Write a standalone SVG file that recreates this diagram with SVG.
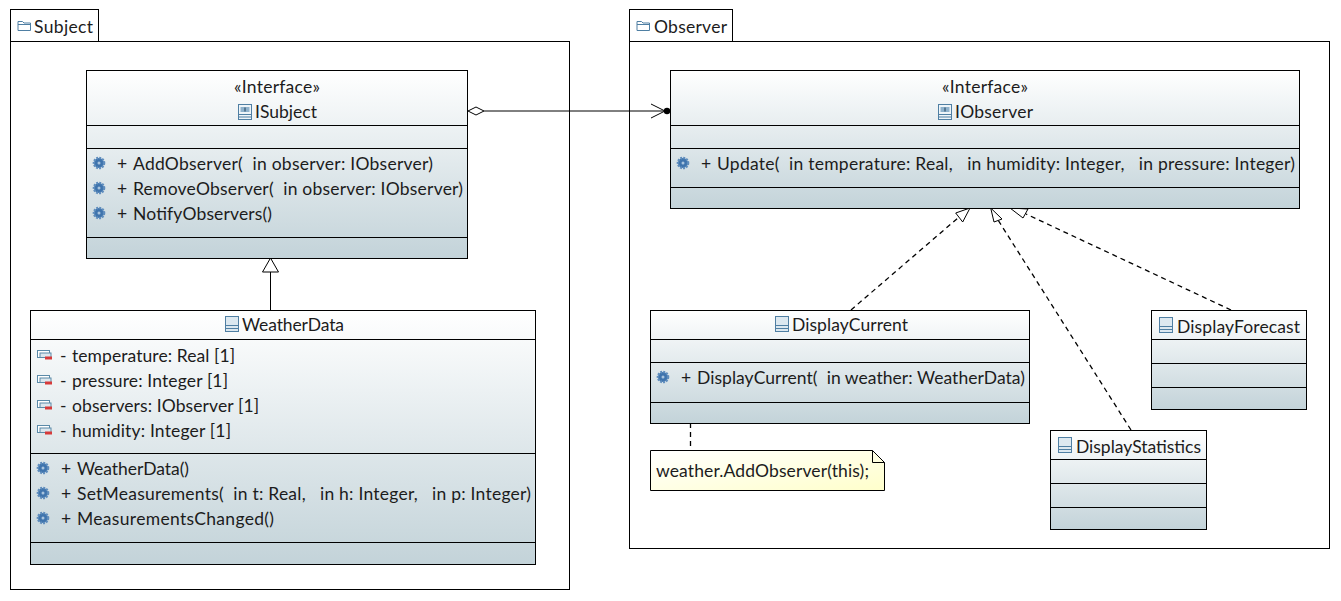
<svg xmlns="http://www.w3.org/2000/svg" width="1341" height="601" viewBox="0 0 1341 601">
<style>
text{font-family:"Lato","Open Sans","Liberation Sans",sans-serif;font-size:17.5px;fill:#1c1c1c;white-space:pre}
.m{text-anchor:middle}
.b{fill:url(#g);stroke:#000;stroke-width:1}
.p{fill:#fff;stroke:#000;stroke-width:1}
.l{stroke:#000;stroke-width:1;fill:none}
.d{stroke:#000;stroke-width:1.3;fill:none;stroke-dasharray:5 4}
.t{stroke:#000;stroke-width:1;fill:#fff}
</style>
<defs>
<linearGradient id="g" x1="0" y1="0" x2="0" y2="1"><stop offset="0" stop-color="#fff"/><stop offset="1" stop-color="#c3d3d9"/></linearGradient>
<linearGradient id="y" x1="0" y1="0" x2="1" y2="1"><stop offset="0" stop-color="#ffffff"/><stop offset="1" stop-color="#ffffcb"/></linearGradient>
<symbol id="op" width="14" height="14" viewBox="0 0 14 14"><circle cx="7" cy="7" r="5" fill="#3f74ad" stroke="#5f8dbd" stroke-width="2.6" stroke-dasharray="1.8 1.1"/><circle cx="7" cy="7" r="3.6" fill="#3f74ad"/><circle cx="7" cy="7" r="1.5" fill="#a9c4de"/></symbol>
<symbol id="at" width="18" height="12" viewBox="0 0 18 12"><rect x="1.5" y="1.5" width="12" height="7" fill="#fff" stroke="#5b8aa8"/><rect x="4" y="4" width="11" height="4.5" fill="#dbe7ee" stroke="#5b8aa8"/><rect x="9" y="7.5" width="7" height="3" fill="#d63a3a"/></symbol>
<symbol id="cl" width="14" height="16" viewBox="0 0 14 16"><rect x="0.5" y="0.5" width="13" height="15" fill="#dce8f0" stroke="#4f7fa3"/><path d="M0.5 9.5H13.5M0.5 12.5H13.5" stroke="#4f7fa3" fill="none"/></symbol>
<symbol id="if" width="14" height="16" viewBox="0 0 14 16"><rect x="0.5" y="0.5" width="13" height="15" fill="#eef4f8" stroke="#4f7fa3"/><path d="M0.5 10.5H13.5M0.5 13H13.5" stroke="#4f7fa3" fill="none"/><rect x="2.5" y="3" width="9" height="5" fill="#8fb2cc"/><path d="M7 3.5V7.5" stroke="#1d3c58"/></symbol>
<symbol id="fo" width="15" height="12" viewBox="0 0 15 12"><path d="M1 10.5V1.5H5.5L7 3H13.5V10.5Z" fill="#fff" stroke="#4f7fa3"/><path d="M1 4.5H13.5" stroke="#4f7fa3"/></symbol>
</defs>
<rect width="1341" height="601" fill="#fff"/>
<g id="pkg-subject">
<rect class="p" x="10.5" y="9.5" width="88" height="32"/><rect class="p" x="10.5" y="41.5" width="559" height="548"/>
<use href="#fo" x="17" y="20"/><text x="34" y="33" textLength="59">Subject</text>
</g>
<g id="pkg-observer">
<rect class="p" x="629.5" y="9.5" width="103" height="32"/><rect class="p" x="629.5" y="41.5" width="700" height="507"/>
<use href="#fo" x="636" y="20"/><text x="654" y="33" textLength="73">Observer</text>
</g>
<g id="connectors">
<path class="l" d="M484 111H665"/>
<path class="t" d="M468 111L476 107L484 111L476 115Z"/>
<path class="l" d="M651 104L665 111L651 118"/>
<circle cx="667" cy="111" r="3.2" fill="#000"/>
<path class="l" d="M270.5 310V272"/>
<path class="t" d="M270.5 258L262.5 272H278.5Z"/>
<path class="d" d="M851 310L959 217"/>
<path class="t" d="M970 208L955.7 213L962.7 222Z"/>
<path class="d" d="M1131 430L998 220"/>
<path class="t" d="M990.7 208L994 222L1002 219Z"/>
<path class="d" d="M1231 310L1026 214"/>
<path class="t" d="M1010 208L1023 218L1028 209Z"/>
<path class="d" d="M690.5 423V450"/>
</g>
<g id="ISubject">
<rect class="b" x="86.5" y="70.5" width="381" height="188"/>
<path class="l" d="M86.5 125.5H467.5M86.5 148.5H467.5M86.5 237.5H467.5"/>
<text class="m" x="277" y="93" textLength="86">«Interface»</text>
<use href="#if" x="238" y="104"/><text x="255" y="118" textLength="62">ISubject</text>
<use href="#op" x="92" y="156"/><text x="117" y="170">+</text><text x="133" y="170" textLength="300">AddObserver(  in observer: IObserver)</text>
<use href="#op" x="92" y="181"/><text x="117" y="195">+</text><text x="133" y="195" textLength="330">RemoveObserver(  in observer: IObserver)</text>
<use href="#op" x="92" y="206"/><text x="117" y="220">+</text><text x="133" y="220" textLength="139">NotifyObservers()</text>
</g>
<g id="WeatherData">
<rect class="b" x="30.5" y="310.5" width="505" height="254"/>
<path class="l" d="M30.5 339.5H535.5M30.5 453.5H535.5M30.5 542.5H535.5"/>
<use href="#cl" x="225" y="316"/><text x="242" y="331" textLength="102">WeatherData</text>
<use href="#at" x="36" y="349"/><text x="60" y="362">-</text><text x="72" y="362" textLength="163">temperature: Real [1]</text>
<use href="#at" x="36" y="374"/><text x="60" y="387">-</text><text x="72" y="387" textLength="156">pressure: Integer [1]</text>
<use href="#at" x="36" y="399"/><text x="60" y="412">-</text><text x="72" y="412" textLength="187">observers: IObserver [1]</text>
<use href="#at" x="36" y="424"/><text x="60" y="437">-</text><text x="72" y="437" textLength="159">humidity: Integer [1]</text>
<use href="#op" x="36" y="461"/><text x="61" y="475">+</text><text x="77" y="475" textLength="112">WeatherData()</text>
<use href="#op" x="36" y="486"/><text x="61" y="500">+</text><text x="77" y="500" textLength="454">SetMeasurements(  in t: Real,   in h: Integer,   in p: Integer)</text>
<use href="#op" x="36" y="511"/><text x="61" y="525">+</text><text x="77" y="525" textLength="197">MeasurementsChanged()</text>
</g>
<g id="IObserver">
<rect class="b" x="670.5" y="70.5" width="629" height="138"/>
<path class="l" d="M670.5 125.5H1299.5M670.5 148.5H1299.5M670.5 187.5H1299.5"/>
<text class="m" x="985" y="93" textLength="86">«Interface»</text>
<use href="#if" x="938" y="104"/><text x="955" y="118" textLength="78">IObserver</text>
<use href="#op" x="676" y="156"/><text x="701" y="170">+</text><text x="717" y="170" textLength="578">Update(  in temperature: Real,   in humidity: Integer,   in pressure: Integer)</text>
</g>
<g id="DisplayCurrent">
<rect class="b" x="650.5" y="310.5" width="379" height="113"/>
<path class="l" d="M650.5 339.5H1029.5M650.5 362.5H1029.5M650.5 402.5H1029.5"/>
<use href="#cl" x="775" y="316"/><text x="792" y="331" textLength="116">DisplayCurrent</text>
<use href="#op" x="656" y="370"/><text x="681" y="384">+</text><text x="697" y="384" textLength="328">DisplayCurrent(  in weather: WeatherData)</text>
</g>
<g id="DisplayForecast">
<rect class="b" x="1151.5" y="310.5" width="155" height="99"/>
<path class="l" d="M1151.5 339.5H1306.5M1151.5 363.5H1306.5M1151.5 387.5H1306.5"/>
<use href="#cl" x="1159" y="317"/><text x="1177" y="333" textLength="123">DisplayForecast</text>
</g>
<g id="DisplayStatistics">
<rect class="b" x="1050.5" y="430.5" width="156" height="99"/>
<path class="l" d="M1050.5 459.5H1206.5M1050.5 483.5H1206.5M1050.5 507.5H1206.5"/>
<use href="#cl" x="1058" y="437"/><text x="1076" y="453" textLength="125">DisplayStatistics</text>
</g>
<g id="note">
<path d="M650.5 450.5H872.5L884.5 462.5V490.5H650.5Z" fill="url(#y)" stroke="#000"/>
<path class="l" d="M872.5 450.5V462.5H884.5"/>
<text x="656" y="477" textLength="213">weather.AddObserver(this);</text>
</g>
</svg>
